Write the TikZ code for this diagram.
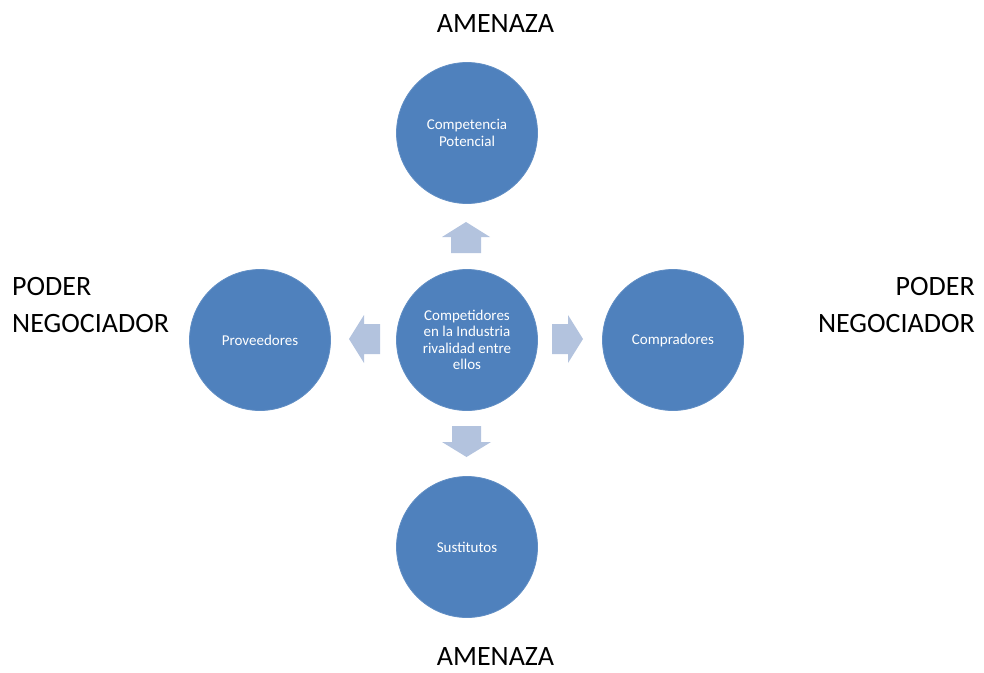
\documentclass[tikz,border=0pt]{standalone}
\usepackage{fontspec}
\setmainfont{Carlito}
\definecolor{circblue}{HTML}{4F81BD}
\definecolor{arrblue}{HTML}{B3C3DE}
\begin{document}
\begin{tikzpicture}[x=1pt,y=-1pt,
  circ/.style={circle,fill=circblue,draw=circblue!90!white,line width=0.8pt,minimum size=141pt,inner sep=0pt,text=white,align=center,font=\fontsize{15}{16.5}\selectfont},
  big/.style={font=\fontsize{28}{36}\selectfont,inner sep=0pt,anchor=base west},
  blk/.style={fill=arrblue,draw=none}]
\useasboundingbox (0,0) rectangle (984,672);
\node[circ] (c) at (467,340) {Competidores\\en la Industria\\rivalidad entre\\ellos};
\node[circ] (t) at (467,133) {Competencia\\Potencial};
\node[circ] (l) at (260,340) {Proveedores};
\node[circ] (r) at (673,340) {Compradores};
\node[circ] (b) at (467,547) {Sustitutos};
% block arrows
\fill[blk] (451,253) -- (451,237) -- (442,237) -- (466,222) -- (490,237) -- (481,237) -- (481,253) -- cycle;
\fill[blk] (452,426) -- (481,426) -- (481,442) -- (491,442) -- (466.5,457) -- (442,442) -- (452,442) -- cycle;
\fill[blk] (552,324) -- (568,324) -- (568,315) -- (583,339) -- (568,363) -- (568,354) -- (552,354) -- cycle;
\fill[blk] (380,324) -- (364,324) -- (364,315) -- (349,339) -- (364,363) -- (364,354) -- (380,354) -- cycle;
% labels
\node[big,anchor=base] (at) at (495.5,32) {AMENAZA};
\node[big,anchor=base] (ab) at (495.5,665) {AMENAZA};
\node[big,anchor=base west] (pl1) at (12,295) {PODER};
\node[big,anchor=base west] (pl2) at (12,332) {NEGOCIADOR};
\node[big,anchor=base east] (pr1) at (975,295) {PODER};
\node[big,anchor=base east] (pr2) at (975,332) {NEGOCIADOR};
\end{tikzpicture}
\end{document}
